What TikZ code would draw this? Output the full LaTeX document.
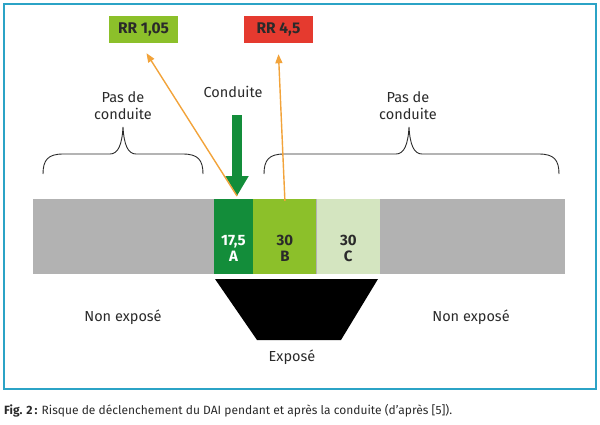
\documentclass[tikz,border=0pt]{standalone}
\usepackage{fontspec}
\setmainfont{Fira Sans}
\usepackage{xcolor}
\usepackage{tikz}
\usetikzlibrary{positioning,arrows.meta}

\definecolor{cadre}{HTML}{2BA3C6}
\definecolor{grisbarre}{HTML}{B2B2B2}
\definecolor{vertA}{HTML}{138D3A}
\definecolor{vertB}{HTML}{8CC02A}
\definecolor{vertC}{HTML}{D4E5C0}
\definecolor{rouge}{HTML}{E53A2F}
\definecolor{orange}{HTML}{F2A33A}
\definecolor{texte}{HTML}{2A2A2A}

% accolade : extremite gauche, pointe, extremite droite
\newcommand{\accolade}[3]{
\draw[texte, line width=0.9pt] (#1,174) .. controls (#1,160) and (#1+5,154) .. (#1+20,154)
  -- (#2-13,154) .. controls (#2-5,154) and (#2-1,145) .. (#2,127)
  .. controls (#2+1,145) and (#2+5,154) .. (#2+13,154)
  -- (#3-20,154) .. controls (#3-5,154) and (#3,160) .. (#3,174);
}

\tikzset{
  rr/.style={font=\bfseries\fontsize{15.5}{18}\selectfont, text=texte, minimum width=69pt, minimum height=27pt, inner sep=0pt},
  seg/.style={minimum height=75pt, inner sep=0pt},
  valeur/.style={font=\bfseries\fontsize{15}{16}\selectfont, align=center},
  legende/.style={font=\fontsize{14.5}{17}\selectfont, text=texte, align=center},
  fleche/.style={orange, line width=1.4pt, -{Triangle[length=9pt,width=7pt]}}
}

\begin{document}
\begin{tikzpicture}[x=1pt,y=-1pt]
\useasboundingbox (0,0) rectangle (600,424);
\draw[cadre, line width=2pt] (4,4) rectangle (596,389);

\node[rr, fill=vertB] (rr1) at (143.5,29.5) {RR 1,05};
\node[rr, fill=rouge] (rr2) at (278.5,29.5) {RR 4,5};

\node[legende] (conduite) at (233,92) {Conduite};
\node[legende] (pas1) at (123,105.5) {Pas de\\conduite};
\node[legende] (pas2) at (408,105.5) {Pas de\\conduite};
\accolade{43}{123}{203}
\accolade{264}{409}{559}

\node[seg, fill=grisbarre, minimum width=532pt] (barre) at (299,236.5) {};
\node[seg, fill=vertA, minimum width=39pt] (A) at (233.5,236.5) {};
\node[seg, fill=vertB, minimum width=63pt, right=0pt of A] (B) {};
\node[seg, fill=vertC, minimum width=63pt, right=0pt of B] (C) {};
\node[valeur, text=white] at ([yshift=-11.5pt]A.center) {17,5\\A};
\node[valeur, text=texte] at ([yshift=-11.5pt]B.center) {30\\B};
\node[valeur, text=texte] at ([yshift=-11.5pt]C.center) {30\\C};

\coordinate (pointe) at (237,196);
\draw[vertA, line width=10pt, -{Triangle[length=20pt,width=22pt]}] (237,115) -- (pointe);
\draw[fleche] (pointe) -- ([xshift=3pt,yshift=-10pt]rr1.south);
\draw[fleche] ([yshift=-2pt]B.north) -- ([yshift=-11pt]rr2.south);

\fill[black] (215,279) -- (378,279) -- (341,340) -- (257,340) -- cycle;
\node[legende] (expose) at (292,357) {Exposé};
\node[legende] (nonexp1) at (123,317) {Non exposé};
\node[legende] (nonexp2) at (471,317) {Non exposé};

\node[anchor=west, inner sep=0pt, text=texte, font=\fontsize{12}{14}\selectfont] (fig) at (4,411)
  {\textbf{Fig. 2\,:} Risque de déclenchement du DAI pendant et après la conduite (d’après [5]).};
\end{tikzpicture}
\end{document}
